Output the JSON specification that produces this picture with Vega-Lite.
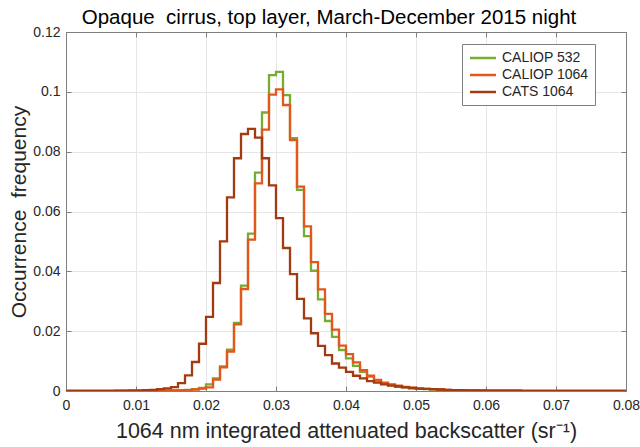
{
  "$schema": "https://vega.github.io/schema/vega-lite/v6.json",
  "width": 560,
  "height": 359,
  "autosize": {"type": "none"},
  "padding": {"left": 66, "top": 32, "right": 14, "bottom": 56},
  "background": "white",
  "title": {"text": "Opaque\u00a0 cirrus, top layer, March-December 2015 night", "fontSize": 20.5, "font": "Liberation Sans", "fontWeight": "normal", "anchor": "middle", "offset": -3, "dx": -17, "color": "black"},
  "config": {
    "view": {"stroke": "#7f7f7f", "strokeWidth": 1},
    "axis": {"labelFont": "Liberation Sans", "titleFont": "Liberation Sans", "labelFontSize": 14, "labelColor": "#262626", "titleColor": "#262626", "titleFontWeight": "normal", "domainColor": "#7f7f7f", "tickColor": "#7f7f7f", "gridColor": "#e6e6e6", "gridWidth": 1, "tickSize": -5, "labelFlush": false}
  },
  "data": {"values": [
    {"x": 0.000, "CALIOP 532": 0, "CALIOP 1064": 0, "CATS 1064": 0},
    {"x": 0.001, "CALIOP 532": 0, "CALIOP 1064": 0, "CATS 1064": 0},
    {"x": 0.002, "CALIOP 532": 0, "CALIOP 1064": 0, "CATS 1064": 0},
    {"x": 0.003, "CALIOP 532": 0, "CALIOP 1064": 0, "CATS 1064": 0},
    {"x": 0.004, "CALIOP 532": 0, "CALIOP 1064": 0, "CATS 1064": 0},
    {"x": 0.005, "CALIOP 532": 0, "CALIOP 1064": 0, "CATS 1064": 0},
    {"x": 0.006, "CALIOP 532": 0, "CALIOP 1064": 0, "CATS 1064": 0},
    {"x": 0.007, "CALIOP 532": 0, "CALIOP 1064": 0, "CATS 1064": 0.0001},
    {"x": 0.008, "CALIOP 532": 0, "CALIOP 1064": 0, "CATS 1064": 0.0001},
    {"x": 0.009, "CALIOP 532": 0, "CALIOP 1064": 0, "CATS 1064": 0.0002},
    {"x": 0.010, "CALIOP 532": 0, "CALIOP 1064": 0, "CATS 1064": 0.0002},
    {"x": 0.011, "CALIOP 532": 0, "CALIOP 1064": 0, "CATS 1064": 0.0003},
    {"x": 0.012, "CALIOP 532": 0.0001, "CALIOP 1064": 0.0001, "CATS 1064": 0.0004},
    {"x": 0.013, "CALIOP 532": 0.0001, "CALIOP 1064": 0.0001, "CATS 1064": 0.0006},
    {"x": 0.014, "CALIOP 532": 0.0001, "CALIOP 1064": 0.0001, "CATS 1064": 0.0009},
    {"x": 0.015, "CALIOP 532": 0.0002, "CALIOP 1064": 0.0002, "CATS 1064": 0.0013},
    {"x": 0.016, "CALIOP 532": 0.0003, "CALIOP 1064": 0.0002, "CATS 1064": 0.0026},
    {"x": 0.017, "CALIOP 532": 0.0004, "CALIOP 1064": 0.0003, "CATS 1064": 0.0052},
    {"x": 0.018, "CALIOP 532": 0.0006, "CALIOP 1064": 0.0005, "CATS 1064": 0.0097},
    {"x": 0.019, "CALIOP 532": 0.0010, "CALIOP 1064": 0.0008, "CATS 1064": 0.0158},
    {"x": 0.020, "CALIOP 532": 0.0022, "CALIOP 1064": 0.0012, "CATS 1064": 0.0248},
    {"x": 0.021, "CALIOP 532": 0.0042, "CALIOP 1064": 0.0038, "CATS 1064": 0.0361},
    {"x": 0.022, "CALIOP 532": 0.0082, "CALIOP 1064": 0.0079, "CATS 1064": 0.0500},
    {"x": 0.023, "CALIOP 532": 0.0138, "CALIOP 1064": 0.0132, "CATS 1064": 0.0647},
    {"x": 0.024, "CALIOP 532": 0.0228, "CALIOP 1064": 0.0223, "CATS 1064": 0.0778},
    {"x": 0.025, "CALIOP 532": 0.0352, "CALIOP 1064": 0.0341, "CATS 1064": 0.0859},
    {"x": 0.026, "CALIOP 532": 0.0526, "CALIOP 1064": 0.0506, "CATS 1064": 0.0876},
    {"x": 0.027, "CALIOP 532": 0.0730, "CALIOP 1064": 0.0694, "CATS 1064": 0.0847},
    {"x": 0.028, "CALIOP 532": 0.0931, "CALIOP 1064": 0.0874, "CATS 1064": 0.0778},
    {"x": 0.029, "CALIOP 532": 0.1056, "CALIOP 1064": 0.0991, "CATS 1064": 0.0687},
    {"x": 0.030, "CALIOP 532": 0.1067, "CALIOP 1064": 0.1008, "CATS 1064": 0.0578},
    {"x": 0.031, "CALIOP 532": 0.0989, "CALIOP 1064": 0.0956, "CATS 1064": 0.0478},
    {"x": 0.032, "CALIOP 532": 0.0845, "CALIOP 1064": 0.0839, "CATS 1064": 0.0391},
    {"x": 0.033, "CALIOP 532": 0.0672, "CALIOP 1064": 0.0683, "CATS 1064": 0.0308},
    {"x": 0.034, "CALIOP 532": 0.0518, "CALIOP 1064": 0.0550, "CATS 1064": 0.0243},
    {"x": 0.035, "CALIOP 532": 0.0402, "CALIOP 1064": 0.0431, "CATS 1064": 0.0193},
    {"x": 0.036, "CALIOP 532": 0.0306, "CALIOP 1064": 0.0340, "CATS 1064": 0.0151},
    {"x": 0.037, "CALIOP 532": 0.0234, "CALIOP 1064": 0.0258, "CATS 1064": 0.0120},
    {"x": 0.038, "CALIOP 532": 0.0181, "CALIOP 1064": 0.0205, "CATS 1064": 0.0092},
    {"x": 0.039, "CALIOP 532": 0.0137, "CALIOP 1064": 0.0152, "CATS 1064": 0.0078},
    {"x": 0.040, "CALIOP 532": 0.0109, "CALIOP 1064": 0.0123, "CATS 1064": 0.0064},
    {"x": 0.041, "CALIOP 532": 0.0084, "CALIOP 1064": 0.0096, "CATS 1064": 0.0051},
    {"x": 0.042, "CALIOP 532": 0.0064, "CALIOP 1064": 0.0070, "CATS 1064": 0.0042},
    {"x": 0.043, "CALIOP 532": 0.0048, "CALIOP 1064": 0.0051, "CATS 1064": 0.0033},
    {"x": 0.044, "CALIOP 532": 0.0035, "CALIOP 1064": 0.0037, "CATS 1064": 0.0028},
    {"x": 0.045, "CALIOP 532": 0.0026, "CALIOP 1064": 0.0028, "CATS 1064": 0.0022},
    {"x": 0.046, "CALIOP 532": 0.0020, "CALIOP 1064": 0.0022, "CATS 1064": 0.0018},
    {"x": 0.047, "CALIOP 532": 0.0015, "CALIOP 1064": 0.0018, "CATS 1064": 0.0015},
    {"x": 0.048, "CALIOP 532": 0.0012, "CALIOP 1064": 0.0014, "CATS 1064": 0.0012},
    {"x": 0.049, "CALIOP 532": 0.0009, "CALIOP 1064": 0.0011, "CATS 1064": 0.0010},
    {"x": 0.050, "CALIOP 532": 0.0007, "CALIOP 1064": 0.0009, "CATS 1064": 0.0008},
    {"x": 0.051, "CALIOP 532": 0.0006, "CALIOP 1064": 0.0007, "CATS 1064": 0.0007},
    {"x": 0.052, "CALIOP 532": 0.0005, "CALIOP 1064": 0.0006, "CATS 1064": 0.0006},
    {"x": 0.053, "CALIOP 532": 0.0004, "CALIOP 1064": 0.0005, "CATS 1064": 0.0005},
    {"x": 0.054, "CALIOP 532": 0.0003, "CALIOP 1064": 0.0004, "CATS 1064": 0.0004},
    {"x": 0.055, "CALIOP 532": 0.0003, "CALIOP 1064": 0.0003, "CATS 1064": 0.0003},
    {"x": 0.056, "CALIOP 532": 0.0002, "CALIOP 1064": 0.0003, "CATS 1064": 0.0003},
    {"x": 0.057, "CALIOP 532": 0.0002, "CALIOP 1064": 0.0002, "CATS 1064": 0.0002},
    {"x": 0.058, "CALIOP 532": 0.0001, "CALIOP 1064": 0.0002, "CATS 1064": 0.0002},
    {"x": 0.059, "CALIOP 532": 0.0001, "CALIOP 1064": 0.0001, "CATS 1064": 0.0002},
    {"x": 0.060, "CALIOP 532": 0.0001, "CALIOP 1064": 0.0001, "CATS 1064": 0.0001},
    {"x": 0.061, "CALIOP 532": 0.0001, "CALIOP 1064": 0.0001, "CATS 1064": 0.0001},
    {"x": 0.062, "CALIOP 532": 0.0001, "CALIOP 1064": 0.0001, "CATS 1064": 0.0001},
    {"x": 0.063, "CALIOP 532": 0.0001, "CALIOP 1064": 0.0001, "CATS 1064": 0.0001},
    {"x": 0.064, "CALIOP 532": 0.0001, "CALIOP 1064": 0.0001, "CATS 1064": 0.0001},
    {"x": 0.065, "CALIOP 532": 0, "CALIOP 1064": 0, "CATS 1064": 0},
    {"x": 0.066, "CALIOP 532": 0, "CALIOP 1064": 0, "CATS 1064": 0},
    {"x": 0.067, "CALIOP 532": 0, "CALIOP 1064": 0, "CATS 1064": 0},
    {"x": 0.068, "CALIOP 532": 0, "CALIOP 1064": 0, "CATS 1064": 0},
    {"x": 0.069, "CALIOP 532": 0, "CALIOP 1064": 0, "CATS 1064": 0},
    {"x": 0.070, "CALIOP 532": 0, "CALIOP 1064": 0, "CATS 1064": 0},
    {"x": 0.071, "CALIOP 532": 0, "CALIOP 1064": 0, "CATS 1064": 0},
    {"x": 0.072, "CALIOP 532": 0, "CALIOP 1064": 0, "CATS 1064": 0},
    {"x": 0.073, "CALIOP 532": 0, "CALIOP 1064": 0, "CATS 1064": 0},
    {"x": 0.074, "CALIOP 532": 0, "CALIOP 1064": 0, "CATS 1064": 0},
    {"x": 0.075, "CALIOP 532": 0, "CALIOP 1064": 0, "CATS 1064": 0},
    {"x": 0.076, "CALIOP 532": 0, "CALIOP 1064": 0, "CATS 1064": 0},
    {"x": 0.077, "CALIOP 532": 0, "CALIOP 1064": 0, "CATS 1064": 0},
    {"x": 0.078, "CALIOP 532": 0, "CALIOP 1064": 0, "CATS 1064": 0},
    {"x": 0.079, "CALIOP 532": 0, "CALIOP 1064": 0, "CATS 1064": 0},
    {"x": 0.080, "CALIOP 532": 0, "CALIOP 1064": 0, "CATS 1064": 0}
  ]},
  "transform": [{"fold": ["CALIOP 532", "CALIOP 1064", "CATS 1064"], "as": ["series", "freq"]}],
  "layer": [
    {
      "mark": {"type": "line", "interpolate": "step-after", "strokeWidth": 2.3, "clip": true},
      "encoding": {
        "x": {"field": "x", "type": "quantitative", "scale": {"domain": [0, 0.08], "nice": false},
          "axis": {"values": [0, 0.01, 0.02, 0.03, 0.04, 0.05, 0.06, 0.07, 0.08], "labelExpr": "format(datum.value, '.2~f')", "title": "1064 nm integrated attenuated backscatter (sr\u207b\u00b9)", "titleFontSize": 21.5, "labelPadding": 12, "titlePadding": 8}},
        "y": {"field": "freq", "type": "quantitative", "scale": {"domain": [0, 0.12], "nice": false},
          "axis": {"values": [0, 0.02, 0.04, 0.06, 0.08, 0.1, 0.12], "labelExpr": "format(datum.value, '.2~f')", "title": "Occurrence\u00a0 frequency", "titleFontSize": 21, "labelPadding": 11, "titlePadding": 3}},
        "color": {"field": "series", "type": "nominal",
          "scale": {"domain": ["CALIOP 532", "CALIOP 1064", "CATS 1064"], "range": ["#77ac30", "#e5561c", "#a23a12"]},
          "legend": {"title": null, "orient": "none", "legendX": 396, "legendY": 12, "strokeColor": "#7f7f7f", "fillColor": "white", "padding": 6, "symbolType": "M-2,0H2", "symbolSize": 169, "symbolOffset": 7, "symbolStrokeWidth": 2.5, "labelFont": "Liberation Sans", "labelFontSize": 14, "labelColor": "#262626", "labelOffset": 11, "rowPadding": 2, "cornerRadius": 0}},
        "order": {"field": "x", "type": "quantitative"}
      }
    },
    {
      "mark": {"type": "line", "opacity": 0},
      "encoding": {
        "x": {"field": "x", "type": "quantitative", "scale": {"domain": [0, 0.08], "nice": false},
          "axis": {"orient": "top", "values": [0, 0.01, 0.02, 0.03, 0.04, 0.05, 0.06, 0.07, 0.08], "labels": false, "grid": false, "title": null}},
        "y": {"field": "freq", "type": "quantitative", "scale": {"domain": [0, 0.12], "nice": false},
          "axis": {"orient": "right", "values": [0, 0.02, 0.04, 0.06, 0.08, 0.1, 0.12], "labels": false, "grid": false, "title": null}}
      }
    }
  ],
  "resolve": {"axis": {"x": "independent", "y": "independent"}}
}
